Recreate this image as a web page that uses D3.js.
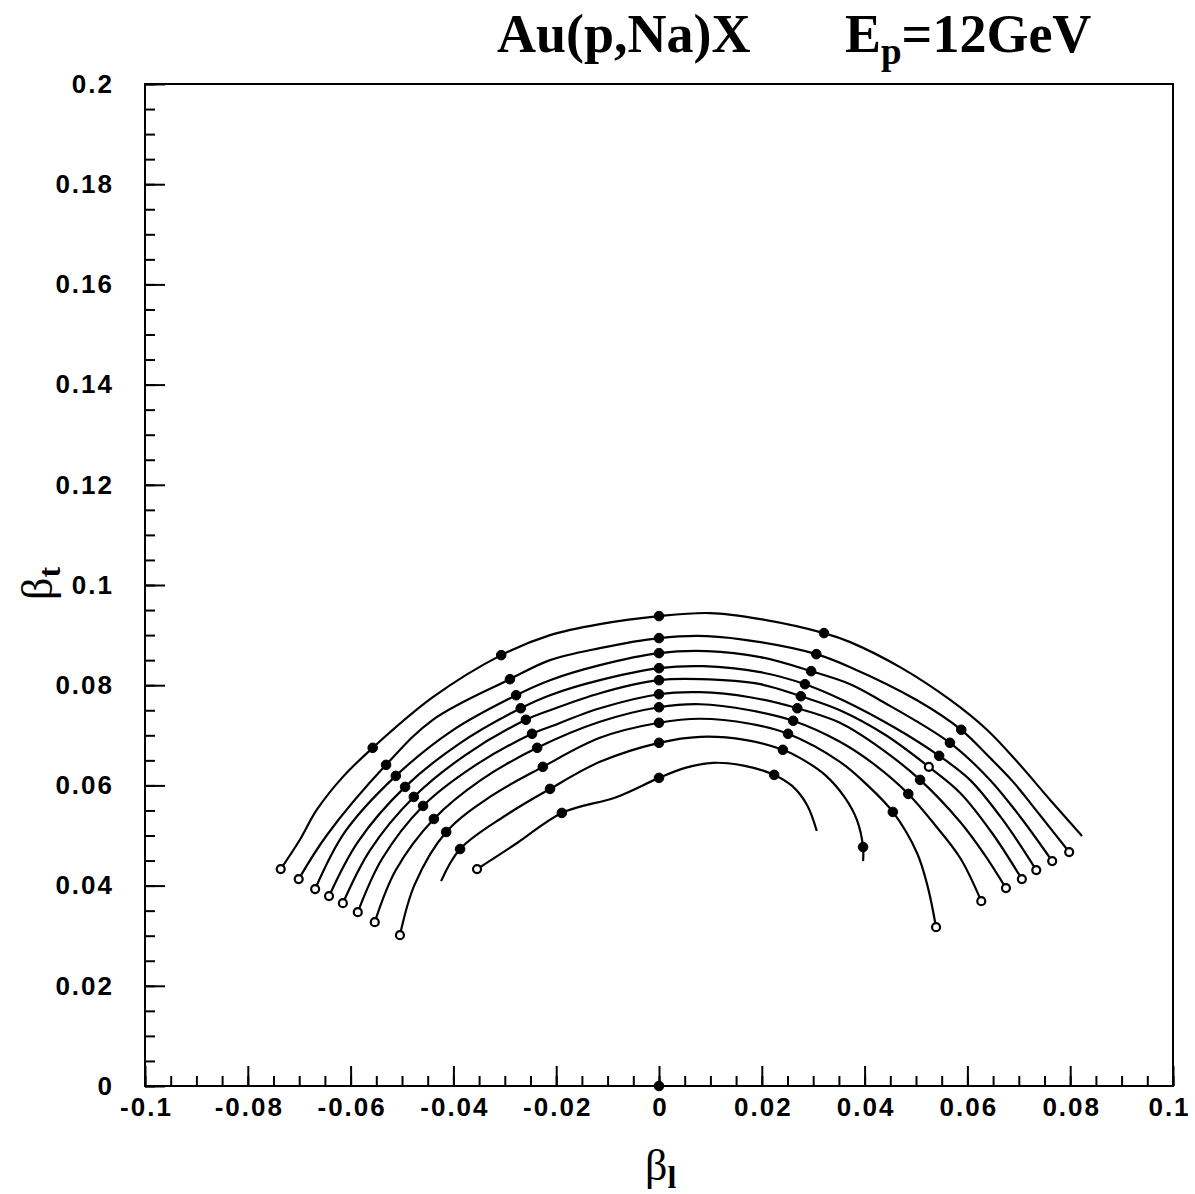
<!DOCTYPE html>
<html>
<head>
<meta charset="utf-8">
<script src="https://cdn.jsdelivr.net/npm/d3@7/dist/d3.min.js"></script>
<style>
  html, body { margin: 0; padding: 0; background: #fff; }
  svg { display: block; }
</style>
</head>
<body>
<svg id="chart" width="1195" height="1194"></svg>
<script>
// Velocity-plane contours: beta_l (longitudinal) vs beta_t (transverse).
// Each ring: [beta_l, beta_t, marker] where marker 'f' = filled dot, 'o' = open dot.
const ring1 = [
  [-0.0736,0.0433,'o'], [-0.0699,0.0491], [-0.0666,0.0551], [-0.0615,0.0617], [-0.0557,0.0675,'f'],
  [-0.0440,0.0776], [-0.0307,0.0860,'f'], [-0.0212,0.0900], [-0.0115,0.0922], [0,0.0938,'f'],
  [0.0099,0.0944], [0.0197,0.0932], [0.0321,0.0904,'f'], [0.0372,0.0886], [0.0469,0.0836],
  [0.0566,0.0771], [0.0638,0.0711], [0.0697,0.0647], [0.0761,0.0571], [0.0823,0.0499]
];
const ring2 = [
  [-0.0701,0.0413,'o'], [-0.0646,0.0501], [-0.0531,0.0641,'f'], [-0.0440,0.0731], [-0.0290,0.0812,'f'],
  [-0.0212,0.0850], [-0.0115,0.0874], [0,0.0894,'f'], [0.0093,0.0898], [0.0197,0.0886],
  [0.0306,0.0862,'f'], [0.0372,0.0836], [0.0502,0.0770], [0.0588,0.0711,'f'], [0.0644,0.0655],
  [0.0689,0.0607], [0.0741,0.0541], [0.0798,0.0467,'o']
];
const ring3 = [
  [-0.0669,0.0393,'o'], [-0.0611,0.0507], [-0.0512,0.0619,'f'], [-0.0403,0.0709], [-0.0278,0.0780,'f'],
  [-0.0212,0.0810], [-0.0115,0.0840], [0,0.0864,'f'], [0.0093,0.0868], [0.0197,0.0856],
  [0.0296,0.0828,'f'], [0.0372,0.0802], [0.0430,0.0770], [0.0566,0.0685,'f'], [0.0644,0.0611],
  [0.0703,0.0537], [0.0765,0.0449,'o']
];
const ring4 = [
  [-0.0642,0.0379,'o'], [-0.0586,0.0487], [-0.0494,0.0597,'f'], [-0.0389,0.0683], [-0.0269,0.0754,'f'],
  [-0.0212,0.0780], [-0.0115,0.0810], [0,0.0834,'f'], [0.0086,0.0838], [0.0197,0.0826],
  [0.0284,0.0802,'f'], [0.0358,0.0770], [0.0459,0.0715], [0.0545,0.0659,'f'], [0.0605,0.0611],
  [0.0669,0.0531], [0.0734,0.0431,'o']
];
const ring5 = [
  [-0.0615,0.0365,'o'], [-0.0562,0.0471], [-0.0477,0.0577,'f'], [-0.0376,0.0661], [-0.0259,0.0731,'f'],
  [-0.0212,0.0750], [-0.0115,0.0784], [0,0.0810,'f'], [0.0080,0.0812], [0.0197,0.0802],
  [0.0276,0.0778,'f'], [0.0352,0.0750], [0.0440,0.0701], [0.0525,0.0637,'o'], [0.0586,0.0585],
  [0.0648,0.0505], [0.0706,0.0413,'o']
];
const ring6 = [
  [-0.0586,0.0347,'o'], [-0.0539,0.0453], [-0.0459,0.0559,'f'], [-0.0362,0.0637], [-0.0247,0.0703,'f'],
  [-0.0212,0.0717], [-0.0115,0.0754], [0,0.0782,'f'], [0.0080,0.0786], [0.0177,0.0776],
  [0.0269,0.0754,'f'], [0.0352,0.0725], [0.0430,0.0675], [0.0508,0.0611,'f'], [0.0586,0.0527],
  [0.0634,0.0461], [0.0675,0.0395,'o']
];
const ring7 = [
  [-0.0553,0.0327,'o'], [-0.0512,0.0431], [-0.0438,0.0533,'f'], [-0.0346,0.0611], [-0.0237,0.0675,'f'],
  [-0.0115,0.0727], [0,0.0756,'f'], [0.0080,0.0762], [0.0177,0.0750], [0.0261,0.0729,'f'],
  [0.0352,0.0687], [0.0420,0.0641], [0.0485,0.0583,'f'], [0.0537,0.0521], [0.0586,0.0455],
  [0.0627,0.0369,'o']
];
const ring8 = [
  [-0.0504,0.0301,'o'], [-0.0475,0.0403], [-0.0414,0.0507,'f'], [-0.0329,0.0577], [-0.0226,0.0637,'f'],
  [-0.0115,0.0695], [0,0.0725,'f'], [0.0080,0.0733], [0.0177,0.0723], [0.0251,0.0703,'f'],
  [0.0352,0.0647], [0.0405,0.0601], [0.0455,0.0547,'f'], [0.0502,0.0465], [0.0523,0.0397],
  [0.0539,0.0317,'o']
];
const ring9 = [
  [-0.0424,0.0409], [-0.0387,0.0473,'f'], [-0.0300,0.0539], [-0.0212,0.0593,'f'], [-0.0115,0.0647],
  [0,0.0685,'f'], [0.0080,0.0697], [0.0167,0.0691], [0.0241,0.0671,'f'], [0.0274,0.0655],
  [0.0323,0.0621], [0.0362,0.0575], [0.0385,0.0531], [0.0397,0.0477,'f'], [0.0397,0.0449]
];
const ring10 = [
  [-0.0354,0.0433,'o'], [-0.0276,0.0485], [-0.0189,0.0545,'f'], [-0.0082,0.0577], [0,0.0615,'f'],
  [0.0051,0.0635], [0.0105,0.0645], [0.0167,0.0639], [0.0224,0.0621,'f'], [0.0259,0.0599],
  [0.0288,0.0561], [0.0307,0.0509]
];
const originPoint = [[0, 0, 'f']];

const rings = [ring1, ring2, ring3, ring4, ring5, ring6, ring7, ring8, ring9, ring10];

const xTickValues = [-0.1, -0.08, -0.06, -0.04, -0.02, 0, 0.02, 0.04, 0.06, 0.08, 0.1];
const xTickLabels = ["-0.1", "-0.08", "-0.06", "-0.04", "-0.02", "0", "0.02", "0.04", "0.06", "0.08", "0.1"];
const yTickValues = [0, 0.02, 0.04, 0.06, 0.08, 0.1, 0.12, 0.14, 0.16, 0.18, 0.2];
const yTickLabels = ["0", "0.02", "0.04", "0.06", "0.08", "0.1", "0.12", "0.14", "0.16", "0.18", "0.2"];
const minorStep = 0.005;

const svg = d3.select("#chart");
svg.append("rect").attr("width", 1195).attr("height", 1194).attr("fill", "#fff");

const plotLeft = 145, plotRight = 1173, plotTop = 84, plotBottom = 1086;
const x = d3.scaleLinear().domain([-0.1, 0.1]).range([plotLeft, plotRight]);
const y = d3.scaleLinear().domain([0, 0.2]).range([plotBottom, plotTop]);

const minorX = d3.range(-0.1, 0.1 + 1e-9, minorStep).map(v => +v.toFixed(4));
const minorY = d3.range(0, 0.2 + 1e-9, minorStep).map(v => +v.toFixed(4));

const tickFont = "'Liberation Sans', Arial, sans-serif";

// frame
svg.append("rect")
  .attr("x", plotLeft).attr("y", plotTop)
  .attr("width", plotRight - plotLeft).attr("height", plotBottom - plotTop)
  .attr("fill", "none").attr("stroke", "#000").attr("stroke-width", 2);

// minor ticks
const gxMinor = svg.append("g").attr("transform", `translate(0,${plotBottom})`)
  .call(d3.axisBottom(x).tickValues(minorX).tickSize(-10).tickFormat(""));
const gyMinor = svg.append("g").attr("transform", `translate(${plotLeft},0)`)
  .call(d3.axisLeft(y).tickValues(minorY).tickSize(-10).tickFormat(""));

// major ticks + labels
const gx = svg.append("g").attr("transform", `translate(0,${plotBottom})`)
  .call(d3.axisBottom(x).tickValues(xTickValues).tickSize(-20).tickPadding(12)
    .tickFormat((d, i) => xTickLabels[i]));
const gy = svg.append("g").attr("transform", `translate(${plotLeft},0)`)
  .call(d3.axisLeft(y).tickValues(yTickValues).tickSize(-20).tickPadding(31)
    .tickFormat((d, i) => yTickLabels[i]));

[gxMinor, gyMinor, gx, gy].forEach(g => {
  g.select(".domain").remove();
  g.selectAll(".tick line").attr("stroke", "#000").attr("stroke-width", 2);
});
[gx, gy].forEach(g => {
  g.selectAll(".tick text")
    .attr("fill", "#000")
    .style("font-family", tickFont)
    .style("font-size", "26px")
    .style("font-weight", "bold")
    .style("letter-spacing", "2px");
});
// keep the rightmost bottom label inside the page
gx.selectAll(".tick text").attr("dx", (d, i) => i === xTickValues.length - 1 ? -4 : 1);

// curves
const line = d3.line()
  .x(d => x(d[0]))
  .y(d => y(d[1]))
  .curve(d3.curveCatmullRom.alpha(0.5));

svg.append("g").selectAll("path")
  .data(rings)
  .join("path")
  .attr("d", line)
  .attr("fill", "none")
  .attr("stroke", "#000")
  .attr("stroke-width", 2.2);

// markers
const markerData = rings.flat().concat(originPoint).filter(d => d[2]);
svg.append("g").selectAll("circle")
  .data(markerData)
  .join("circle")
  .attr("cx", d => x(d[0]))
  .attr("cy", d => y(d[1]))
  .attr("r", d => d[2] === 'o' ? 4 : 4.8)
  .attr("fill", d => d[2] === 'o' ? "#fff" : "#000")
  .attr("stroke", "#000")
  .attr("stroke-width", d => d[2] === 'o' ? 2.2 : 1);

// title
const serif = "'Liberation Serif', 'Times New Roman', serif";
const title = svg.append("text")
  .attr("y", 52)
  .style("font-family", serif)
  .style("font-weight", "bold")
  .style("font-size", "54px")
  .attr("fill", "#000");
title.append("tspan").attr("x", 497).text("Au(p,Na)X");
title.append("tspan").attr("x", 845).text("E");
title.append("tspan").attr("dy", 12).style("font-size", "37px").text("p");
title.append("tspan").attr("dy", -12).text("=12GeV");

// axis titles
const xt = svg.append("text")
  .attr("x", 645).attr("y", 1180)
  .style("font-family", serif).style("font-size", "44px").attr("fill", "#000");
xt.append("tspan").text("β");
xt.append("tspan").attr("dy", 8).style("font-size", "32px").style("font-weight", "bold").text("l");

const yt = svg.append("text")
  .attr("transform", "translate(52,600) rotate(-90)")
  .style("font-family", serif).style("font-size", "44px").attr("fill", "#000");
yt.append("tspan").text("β");
yt.append("tspan").attr("dy", 8).style("font-size", "32px").style("font-weight", "bold").text("t");
</script>
</body>
</html>
